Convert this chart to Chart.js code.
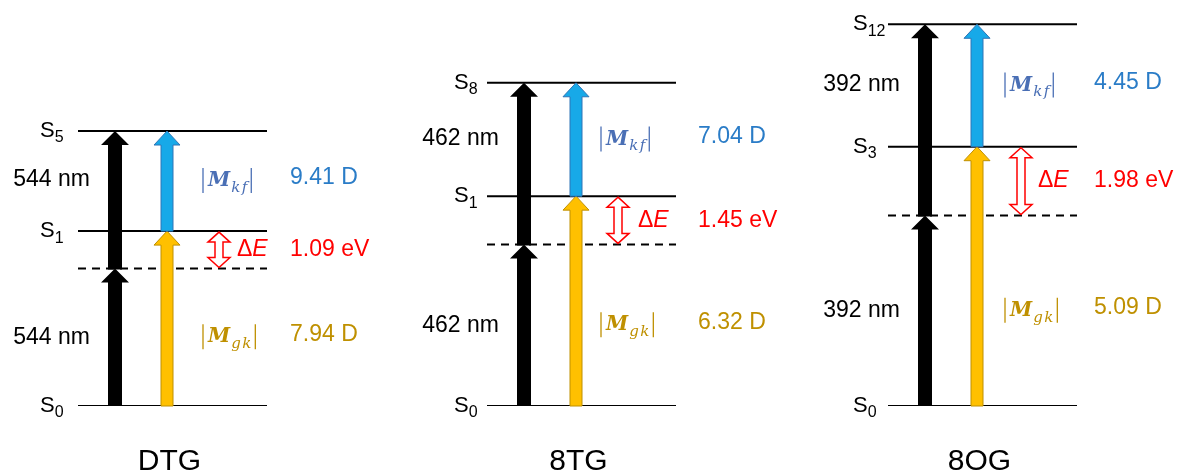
<!DOCTYPE html>
<html>
<head>
<meta charset="utf-8">
<script src="https://cdn.jsdelivr.net/npm/chart.js@4"></script>
<style>
  body { margin: 0; background: #fff; }
  #wrap { width: 1179px; height: 474px; position: relative; }
</style>
</head>
<body>
<div id="wrap"><canvas id="graph"></canvas></div>
<script>
// --- data
var molecules = ['DTG', '8TG', '8OG'];
var pumpNm = [544, 462, 392];
var virtualLevel = [2.28, 2.68, 3.16];   // one-photon level (eV scale of the drawing)
var topLevel = [4.56, 5.36, 6.33];       // two-photon level
var topState = ['5', '8', '12'];
var midLevel = [2.90, 3.48, 4.30];       // drawn position of intermediate state
var midState = ['1', '1', '3'];
var mkf = ['9.41', '7.04', '4.45'];
var mgk = ['7.94', '6.32', '5.09'];
var deltaE = ['1.09', '1.45', '1.98'];

// --- layout (x scale units)
var panelX = [78, 487, 888];
var lineLen = 189;
var blackOff = 37, colorOff = 89;
var deArrowX = [219, 618, 1021];
var deTextX = [237, 638, 1038];
var mLabelX = [202, 600, 1004];
var valueX = [290, 698, 1094];
var stateX = [40, 454, 853];

var SANS = '"Liberation Sans", Arial, sans-serif';
var SERIF = '"DejaVu Serif", "Liberation Serif", serif';

// level lines as datasets
var datasets = [];
for (var i = 0; i < molecules.length; i++) {
    [0, midLevel[i], topLevel[i]].forEach(function (lv) {
        datasets.push({
            data: [{x: panelX[i], y: lv}, {x: panelX[i] + lineLen, y: lv}],
            borderColor: '#000', borderWidth: 2, pointRadius: 0, showLine: true
        });
    });
    datasets.push({
        data: [{x: panelX[i], y: virtualLevel[i]}, {x: panelX[i] + lineLen, y: virtualLevel[i]}],
        borderColor: '#000', borderWidth: 2, borderDash: [8, 6], pointRadius: 0, showLine: true
    });
}

function upArrow(ctx, x, yBase, yTip, shaftW, headW, headL, fill, stroke) {
    ctx.beginPath();
    ctx.moveTo(x - shaftW / 2, yBase);
    ctx.lineTo(x - shaftW / 2, yTip + headL);
    ctx.lineTo(x - headW / 2, yTip + headL);
    ctx.lineTo(x, yTip);
    ctx.lineTo(x + headW / 2, yTip + headL);
    ctx.lineTo(x + shaftW / 2, yTip + headL);
    ctx.lineTo(x + shaftW / 2, yBase);
    ctx.closePath();
    ctx.fillStyle = fill;
    ctx.fill();
    if (stroke) {
        ctx.strokeStyle = stroke;
        ctx.lineWidth = 1;
        ctx.stroke();
    }
}

function doubleArrow(ctx, x, yTop, yBot, shaftW, headW, headL) {
    ctx.beginPath();
    ctx.moveTo(x, yTop);
    ctx.lineTo(x + headW / 2, yTop + headL);
    ctx.lineTo(x + shaftW / 2, yTop + headL);
    ctx.lineTo(x + shaftW / 2, yBot - headL);
    ctx.lineTo(x + headW / 2, yBot - headL);
    ctx.lineTo(x, yBot);
    ctx.lineTo(x - headW / 2, yBot - headL);
    ctx.lineTo(x - shaftW / 2, yBot - headL);
    ctx.lineTo(x - shaftW / 2, yTop + headL);
    ctx.lineTo(x - headW / 2, yTop + headL);
    ctx.closePath();
    ctx.fillStyle = '#fff';
    ctx.fill();
    ctx.strokeStyle = '#ff0000';
    ctx.lineWidth = 1.5;
    ctx.stroke();
}

function stateLabel(ctx, x, y, sub) {
    ctx.fillStyle = '#000';
    ctx.textBaseline = 'middle';
    ctx.textAlign = 'left';
    ctx.font = '22px ' + SANS;
    ctx.fillText('S', x, y);
    var w = ctx.measureText('S').width;
    ctx.font = '16px ' + SANS;
    ctx.fillText(sub, x + w, y + 7);
}

function bar(ctx, x, y, color) {
    ctx.strokeStyle = color;
    ctx.lineWidth = 1.3;
    ctx.beginPath();
    ctx.moveTo(x, y - 13);
    ctx.lineTo(x, y + 12);
    ctx.stroke();
}

function momentLabel(ctx, x, y, sub, color) {
    ctx.fillStyle = color;
    ctx.textBaseline = 'middle';
    ctx.textAlign = 'left';
    bar(ctx, x + 1, y, color);
    x += 6;
    ctx.font = 'italic bold 20px ' + SERIF;
    ctx.fillText('M', x, y);
    x += ctx.measureText('M').width + 1;
    ctx.font = 'italic 15px ' + SERIF;
    ctx.fillText(sub.split('').join('\u200A'), x, y + 7);
    x += ctx.measureText(sub.split('').join('\u200A')).width + 4;
    bar(ctx, x, y, color);
}

var diagramPlugin = {
    id: 'diagram',
    afterDatasetsDraw: function (chart) {
        var ctx = chart.ctx;
        var xs = chart.scales.x, ys = chart.scales.y;
        ctx.save();
        for (var i = 0; i < molecules.length; i++) {
            var x0 = panelX[i];
            var yS0 = ys.getPixelForValue(0);
            var yV = ys.getPixelForValue(virtualLevel[i]);
            var yM = ys.getPixelForValue(midLevel[i]);
            var yT = ys.getPixelForValue(topLevel[i]);
            var xb = xs.getPixelForValue(x0 + blackOff);
            var xc = xs.getPixelForValue(x0 + colorOff);

            // two-photon pump arrows
            upArrow(ctx, xb, yS0, yV, 14, 28, 14, '#000');
            upArrow(ctx, xb, yV + 1, yT, 14, 28, 14, '#000');
            // transition moments
            upArrow(ctx, xc, yS0, yM, 12, 26, 14, '#ffc000', '#bf9000');
            upArrow(ctx, xc, yM, yT, 12, 26, 14, '#17a9e8', '#2e75b6');
            // detuning
            doubleArrow(ctx, xs.getPixelForValue(deArrowX[i]), yM + 1, yV - 1, 8, 22, 10);

            // state labels
            var lx = xs.getPixelForValue(stateX[i]);
            stateLabel(ctx, lx, yS0, '0');
            stateLabel(ctx, lx, yM, midState[i]);
            stateLabel(ctx, lx, yT, topState[i]);

            var yUp = (yM + yT) / 2, yLow = (yS0 + yV) / 2, yDe = (yM + yV) / 2;

            // wavelength labels
            ctx.fillStyle = '#000';
            ctx.font = '23px ' + SANS;
            ctx.textAlign = 'right';
            ctx.textBaseline = 'middle';
            ctx.fillText(pumpNm[i] + ' nm', xs.getPixelForValue(x0 + 12), yUp - 1);
            ctx.fillText(pumpNm[i] + ' nm', xs.getPixelForValue(x0 + 12), yLow);

            // moment labels and values
            momentLabel(ctx, xs.getPixelForValue(mLabelX[i]), yUp, 'kf', '#4a6fb5');
            momentLabel(ctx, xs.getPixelForValue(mLabelX[i]), yLow, 'gk', '#bf9000');
            ctx.font = '23px ' + SANS;
            ctx.textAlign = 'left';
            ctx.fillStyle = '#2a7cc7';
            ctx.fillText(mkf[i] + ' D', xs.getPixelForValue(valueX[i]), yUp - 3);
            ctx.fillStyle = '#bf9000';
            ctx.fillText(mgk[i] + ' D', xs.getPixelForValue(valueX[i]), yLow - 3);

            // delta E
            ctx.fillStyle = '#ff0000';
            var dx = xs.getPixelForValue(deTextX[i]);
            ctx.font = '23px ' + SANS;
            ctx.fillText('Δ', dx, yDe);
            dx += ctx.measureText('Δ').width;
            ctx.font = 'italic 23px ' + SANS;
            ctx.fillText('E', dx, yDe);
            ctx.font = '23px ' + SANS;
            ctx.fillText(deltaE[i] + ' eV', xs.getPixelForValue(valueX[i]), yDe);

            // molecule name
            ctx.fillStyle = '#000';
            ctx.font = '30px ' + SANS;
            ctx.textAlign = 'center';
            ctx.fillText(molecules[i], xs.getPixelForValue(x0 + lineLen / 2 - 3), 462);
        }
        ctx.restore();
    }
};

new Chart(document.getElementById('graph'), {
    type: 'scatter',
    data: { datasets: datasets },
    options: {
        responsive: true,
        maintainAspectRatio: false,
        animation: false,
        layout: { padding: { left: 0, right: 0, top: 8, bottom: 68 } },
        plugins: { legend: { display: false }, tooltip: { enabled: false } },
        scales: {
            x: { type: 'linear', min: 0, max: 1179, display: false },
            y: { type: 'linear', min: 0, max: 6.6, display: false }
        }
    },
    plugins: [diagramPlugin]
});
</script>
</body>
</html>
